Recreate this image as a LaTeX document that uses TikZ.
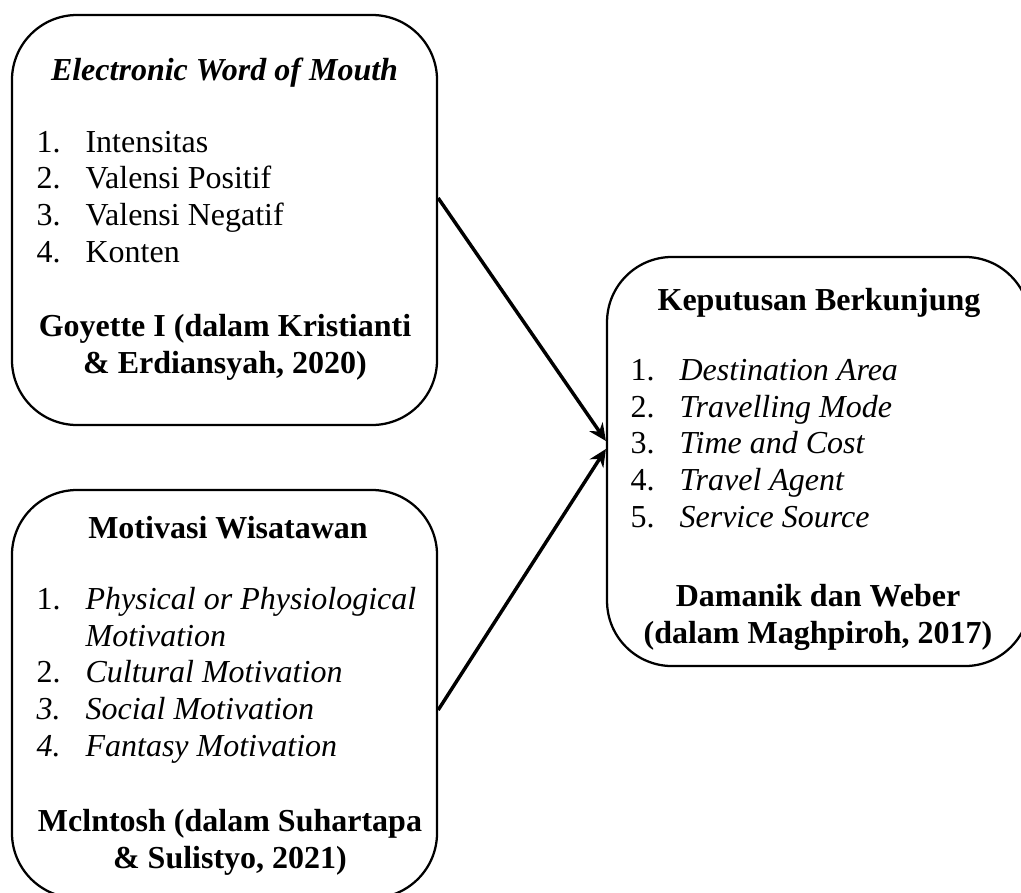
\documentclass[tikz,border=0pt]{standalone}
\usepackage{fontspec}
\setmainfont{Liberation Serif}
\usetikzlibrary{arrows.meta}

\tikzset{
  kotak/.style={draw, line width=0.85pt, rounded corners=24.4pt,
    minimum width=159.4pt, minimum height=153.75pt, inner sep=0pt},
  teks/.style={font=\fontsize{12}{13.7}\selectfont, inner sep=0pt},
  tebal/.style={teks, font=\fontsize{12}{13.7}\selectfont\bfseries},
  panah/.style={line width=1.3pt, -{Stealth[length=6.5pt, width=6pt]}}
}
\newcommand{\nomor}[1]{\makebox[18.4pt][l]{#1}}

\begin{document}
\begin{tikzpicture}[x=0.375pt, y=-0.375pt]
\useasboundingbox (0,0) rectangle (1021,892);

    % kotak
    \node[kotak] (ewom) at (224.5,220) {};
    \node[kotak, minimum height=153pt] (motivasi) at (224.5,694) {};
    \node[kotak, minimum width=158.6pt, minimum height=153.4pt] (keputusan) at (818.5,461.5) {};

    % Electronic Word of Mouth (base = baris terakhir)
    \node[tebal, anchor=base] (ewom-judul) at (224.5,80) {\textit{Electronic Word of Mouth}};
    \node[teks, anchor=base west, align=left] (ewom-item) at (36,262)
      {\nomor{1.}Intensitas\\ \nomor{2.}Valensi Positif\\
       \nomor{3.}Valensi Negatif\\ \nomor{4.}Konten};
    \node[tebal, anchor=base, align=center] (ewom-sumber) at (225,373)
      {Goyette I (dalam Kristianti\\ \& Erdiansyah, 2020)};

    % Motivasi Wisatawan
    \node[tebal, anchor=base] (motivasi-judul) at (228,538) {Motivasi Wisatawan};
    \node[teks, anchor=base west, align=left] (motivasi-item) at (36,756)
      {\nomor{1.}\textit{Physical or Physiological}\\ \hspace*{18.4pt}\textit{Motivation}\\
       \nomor{2.}\textit{Cultural Motivation}\\ \nomor{\textit{3.}}\textit{Social Motivation}\\
       \nomor{\textit{4.}}\textit{Fantasy Motivation}};
    \node[tebal, anchor=base, align=center] (motivasi-sumber) at (230,868)
      {Mclntosh (dalam Suhartapa\\ \& Sulistyo, 2021)};

    % Keputusan Berkunjung
    \node[tebal, anchor=base] (keputusan-judul) at (819,310) {Keputusan Berkunjung};
    \node[teks, anchor=base west, align=left] (keputusan-item) at (630,527)
      {\nomor{1.}\textit{Destination Area}\\ \nomor{2.}\textit{Travelling Mode}\\
       \nomor{3.}\textit{Time and Cost}\\ \nomor{4.}\textit{Travel Agent}\\
       \nomor{5.}\textit{Service Source}};
    \node[tebal, anchor=base, align=center] (keputusan-sumber) at (818,643)
      {Damanik dan Weber\\ (dalam Maghpiroh, 2017)};

    % panah
    \draw[panah] ([yshift=8.25pt]ewom.east) -- ([yshift=7.7pt]keputusan.west);
    \draw[panah] ([yshift=-6pt]motivasi.east) -- ([yshift=4.7pt]keputusan.west);
\end{tikzpicture}
\end{document}
